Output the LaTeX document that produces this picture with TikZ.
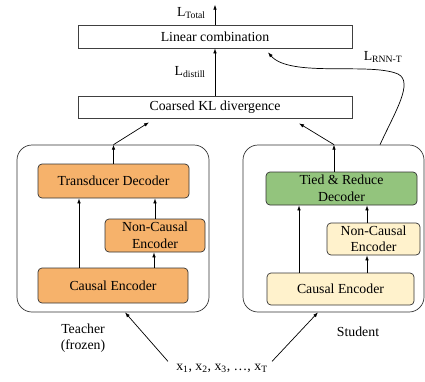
\documentclass[tikz,border=0pt]{standalone}
\usepackage{fontspec}
\setmainfont{Liberation Serif}
\usepackage{tikz}
\usetikzlibrary{positioning, arrows.meta, calc}
\definecolor{teachOrange}{HTML}{F6B26B}
\definecolor{studGreen}{HTML}{93C47D}
\definecolor{studCream}{HTML}{FFF2CC}
\tikzset{
    lossbox/.style={draw=black!75, rectangle, inner sep=0pt, minimum width=274pt},
    model/.style={draw=black!80, rounded corners=15pt, minimum width=#1, minimum height=167pt, inner sep=0pt},
    block/.style={draw=black!80, rounded corners=4pt, inner sep=0pt, align=center,
        font=\fontsize{13.8}{16.5}\selectfont},
    lbl/.style={inner sep=0pt, align=center},
}

\begin{document}
\begin{tikzpicture}[x=1pt, y=-1pt, line width=.7pt,
    >={Latex[length=5pt,width=3.6pt]},
    every node/.append style={font=\fontsize{13.8}{16.5}\selectfont}]
    \useasboundingbox (0,0) rectangle (425,381);

                 % losses
                 \node[lossbox, minimum height=23pt] (lin) at (215,36.5) {Linear combination};
                 \node[lossbox, minimum height=22pt] (kl) at (215,107) {Coarsed KL divergence};

                 % teacher
                 \node[model=192pt] (teacher) at (113,228.5) {};
                 \node[block, fill=teachOrange, minimum width=151pt, minimum height=34pt] (td) at (113.5,181) {Transducer Decoder};
                 \node[block, fill=teachOrange, minimum width=100pt, minimum height=33pt] (tnc) at (155,235.5) {Non-Causal\\Encoder};
                 \node[block, fill=teachOrange, minimum width=150pt, minimum height=35pt] (tce) at (113,285.5) {Causal Encoder};
                 \node[lbl] (tname) at (83,338) {Teacher\\(frozen)};

                 % student
                 \node[model=181pt] (student) at (333.5,228.5) {};
                 \node[block, fill=studGreen, minimum width=151pt, minimum height=33pt] (trd) at (341.5,188.5) {Tied \& Reduce\\Decoder};
                 \node[block, fill=studCream, minimum width=93pt, minimum height=32pt] (snc) at (373.5,239) {Non-Causal\\Encoder};
                 \node[block, fill=studCream, minimum width=147pt, minimum height=32pt] (sce) at (340.5,289) {Causal Encoder};
                 \node[lbl] (sname) at (358,332) {Student};

                 % input
                 \node[lbl] (xin) at (222,368) {x\textsubscript{1}, x\textsubscript{2}, x\textsubscript{3}, \dots, x\textsubscript{T}};

                 % inside teacher
                 \coordinate (ta) at ([xshift=-34pt]tce.north);
                 \draw[->] (ta) -- (ta |- td.south);
                 \coordinate (tb) at ([xshift=-1pt]tnc.south);
                 \draw[->] (tb |- tce.north) -- (tb);
                 \draw[->] (tnc.north) -- (tnc.north |- td.south);
                 \draw[->] (td.north) -- (td.north |- teacher.north);

                 % inside student
                 \coordinate (sa) at ([xshift=-41.5pt]sce.north);
                 \draw[->] (sa) -- (sa |- trd.south);
                 \coordinate (sb) at ([xshift=-6.5pt]snc.south);
                 \draw[->] (sb |- sce.north) -- (sb);
                 \draw[->] (sb |- snc.north) -- (sb |- trd.south);
                 \coordinate (sc) at ([xshift=-7.5pt]trd.north);
                 \draw[->] (sc) -- (sc |- student.north);

                 % into the losses
                 \draw[->] (td.north |- teacher.north) -- ($(kl.south)+(-66,4)$);
                 \draw[->] (sc |- student.north) -- ($(kl.south)+(84,5)$);
                 \draw[->] (kl.north) -- node[left=9pt, lbl]{L\textsubscript{distill}} (lin.south);
                 \draw[->] (lin.north) -- node[left=9pt, pos=.6, lbl]{L\textsubscript{Total}} ++(0,-20);
                 \coordinate (rs) at ($(student.north)+(46.5,0)$);
                 \draw[->] (rs) .. controls (395,112) and (414,82) .. (398,74)
                     .. controls (370,62) and (290,78) .. ($(lin.south)+(53,4)$);
                 \node[lbl] (rnnt) at (383,57) {L\textsubscript{RNN-T}};

                 % inputs to models
                 \draw[->] ($(xin.north west)+(-8,-2)$) -- ($(teacher.south)+(12,0)$);
                 \draw[->] ($(xin.north east)+(4,-2)$) -- ($(student.south)+(-15.5,0)$);
             \end{tikzpicture}
\end{document}
